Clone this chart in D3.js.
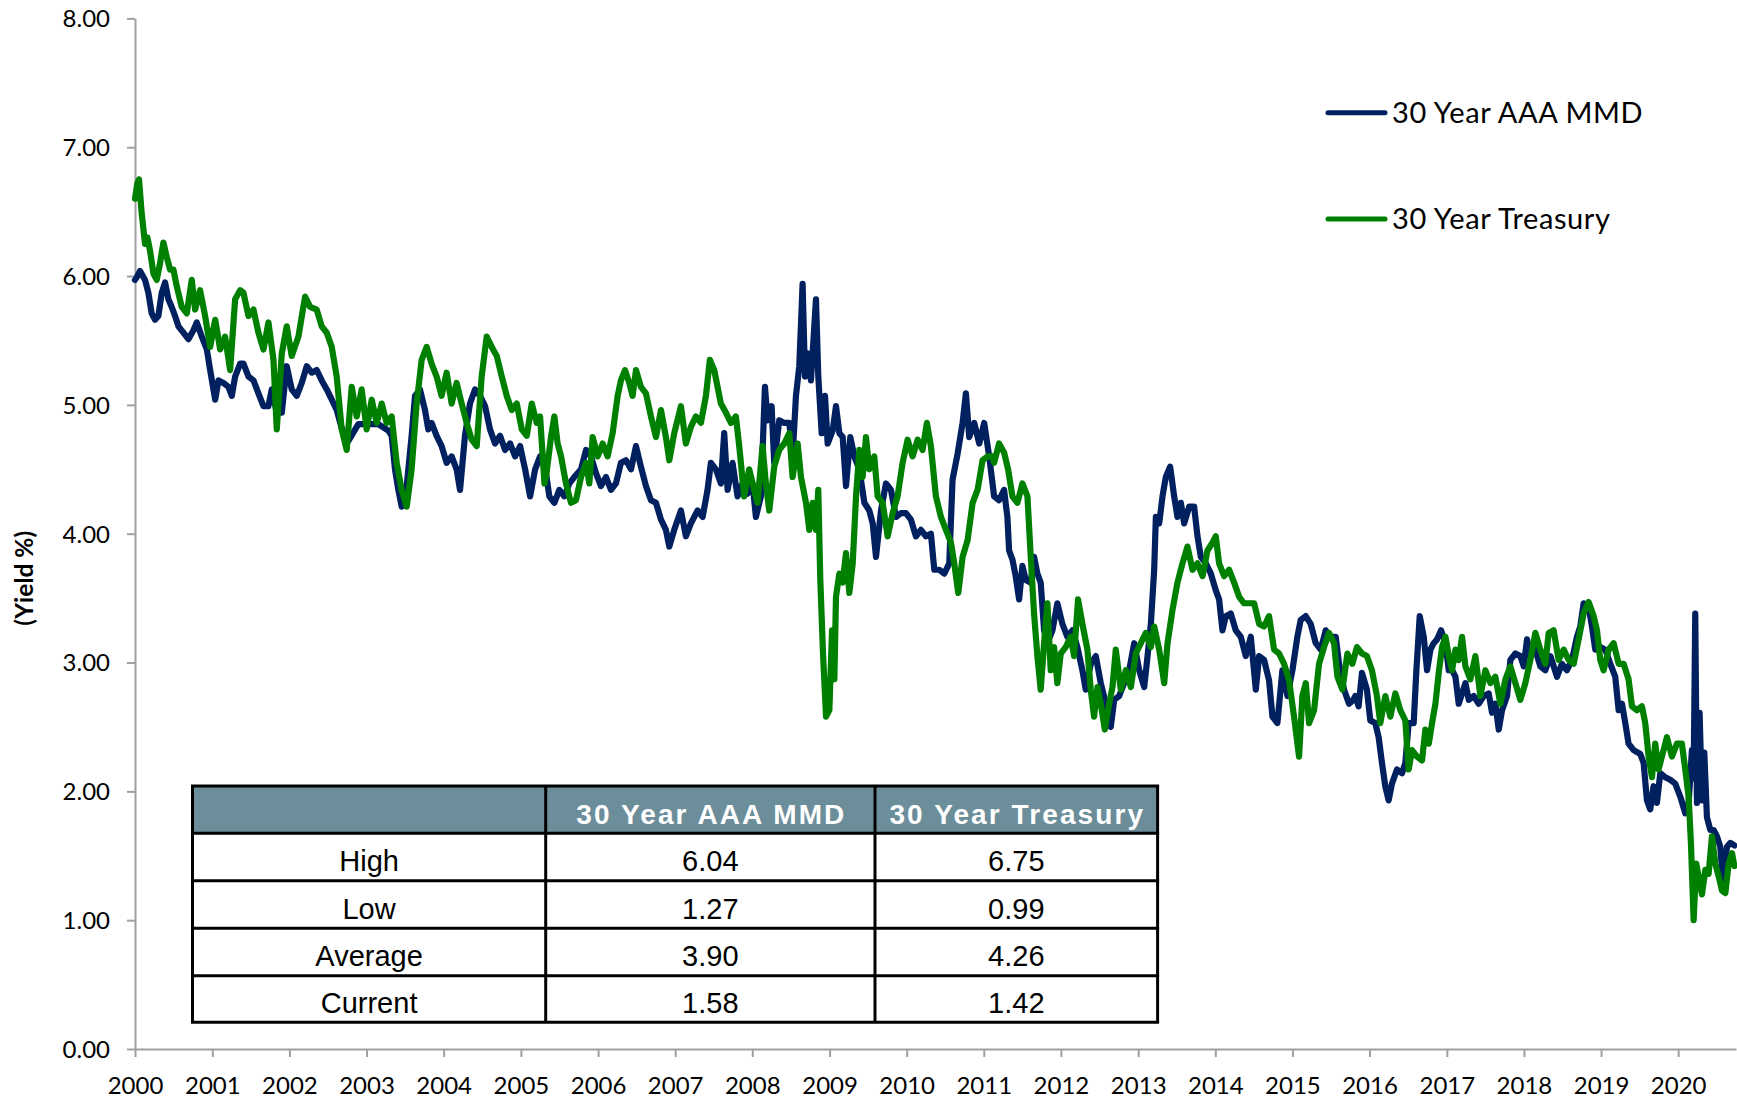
<!DOCTYPE html>
<html><head><meta charset="utf-8">
<script src="https://cdn.jsdelivr.net/npm/d3@7"></script>
<style>body{margin:0;background:#fff}svg{display:block}</style>
</head><body>
<svg id="chart" width="1737" height="1100"></svg>
<script>
// ---------------- DATA (decimal year, yield %) ----------------
const mmd = [
[2000.000,5.97],[2000.022,5.99],[2000.065,6.04],[2000.130,5.97],[2000.173,5.87],[2000.216,5.71],[2000.259,5.66],[2000.302,5.69],[2000.346,5.87],[2000.389,5.95],[2000.432,5.82],[2000.475,5.76],[2000.518,5.69],[2000.562,5.61],[2000.626,5.56],[2000.691,5.51],[2000.756,5.58],[2000.799,5.64],[2000.864,5.53],[2000.929,5.43],[2000.972,5.27],
[2001.037,5.04],[2001.080,5.19],[2001.145,5.17],[2001.209,5.14],[2001.253,5.07],[2001.296,5.22],[2001.361,5.32],[2001.404,5.32],[2001.469,5.22],[2001.534,5.19],[2001.598,5.09],[2001.663,4.99],[2001.728,4.99],[2001.771,5.12],[2001.836,4.94],[2001.901,4.94],[2001.965,5.30],
[2002.030,5.12],[2002.095,5.07],[2002.160,5.17],[2002.225,5.30],[2002.289,5.25],[2002.354,5.27],[2002.419,5.19],[2002.484,5.12],[2002.549,5.04],[2002.613,4.96],[2002.678,4.82],[2002.765,4.72],[2002.894,4.85],
[2003.024,4.85],[2003.153,4.85],[2003.283,4.80],[2003.326,4.76],[2003.369,4.50],[2003.413,4.34],[2003.456,4.21],[2003.521,4.37],[2003.585,4.76],[2003.629,5.07],[2003.693,5.12],[2003.758,4.96],[2003.801,4.81],[2003.844,4.86],[2003.909,4.76],[2003.974,4.68],
[2004.039,4.55],[2004.104,4.60],[2004.168,4.50],[2004.212,4.34],[2004.276,4.76],[2004.341,5.01],[2004.406,5.12],[2004.471,5.07],[2004.536,4.99],[2004.600,4.81],[2004.665,4.70],[2004.730,4.76],[2004.795,4.65],[2004.860,4.70],[2004.924,4.60],[2004.989,4.68],
[2005.054,4.50],[2005.119,4.29],[2005.184,4.50],[2005.248,4.60],[2005.313,4.52],[2005.368,4.29],[2005.433,4.24],[2005.498,4.34],[2005.563,4.29],[2005.628,4.39],[2005.692,4.44],[2005.779,4.50],[2005.844,4.65],[2005.908,4.60],[2005.973,4.47],
[2006.038,4.37],[2006.103,4.44],[2006.168,4.34],[2006.232,4.39],[2006.297,4.55],[2006.362,4.57],[2006.427,4.50],[2006.492,4.68],[2006.556,4.52],[2006.621,4.37],[2006.686,4.26],[2006.751,4.24],[2006.816,4.11],[2006.880,4.03],[2006.924,3.90],[2006.988,4.03],
[2007.075,4.18],[2007.139,3.98],[2007.204,4.08],[2007.291,4.18],[2007.356,4.13],[2007.420,4.34],[2007.463,4.55],[2007.528,4.50],[2007.593,4.39],[2007.636,4.78],[2007.680,4.34],[2007.744,4.55],[2007.809,4.29],[2007.874,4.39],[2007.939,4.31],
[2008.004,4.39],[2008.047,4.13],[2008.112,4.29],[2008.164,5.14],[2008.198,4.88],[2008.250,4.99],[2008.284,4.55],[2008.349,4.88],[2008.414,4.86],[2008.479,4.86],[2008.522,4.60],[2008.565,5.07],[2008.608,5.30],[2008.651,5.94],[2008.682,5.22],[2008.716,5.40],[2008.759,5.19],[2008.824,5.82],[2008.854,5.22],[2008.898,4.78],[2008.941,5.07],[2008.975,4.70],
[2009.040,4.80],[2009.083,4.99],[2009.127,4.78],[2009.170,4.75],[2009.213,4.37],[2009.269,4.75],[2009.321,4.60],[2009.386,4.50],[2009.451,4.24],[2009.515,4.18],[2009.559,4.08],[2009.602,3.82],[2009.667,4.18],[2009.731,4.39],[2009.796,4.34],[2009.861,4.13],[2009.926,4.16],[2009.990,4.16],
[2010.055,4.11],[2010.120,3.98],[2010.185,4.03],[2010.250,3.98],[2010.314,4.00],[2010.358,3.72],[2010.422,3.72],[2010.487,3.69],[2010.552,3.77],[2010.595,4.42],[2010.660,4.62],[2010.725,4.86],[2010.768,5.09],[2010.811,4.75],[2010.876,4.86],[2010.941,4.70],
[2011.005,4.86],[2011.070,4.60],[2011.134,4.29],[2011.198,4.26],[2011.263,4.34],[2011.306,4.13],[2011.328,3.87],[2011.371,3.80],[2011.414,3.67],[2011.458,3.49],[2011.501,3.75],[2011.544,3.64],[2011.609,3.62],[2011.652,3.82],[2011.695,3.69],[2011.738,3.62],[2011.782,3.25],[2011.825,3.15],[2011.890,3.25],[2011.954,3.46],
[2012.019,3.30],[2012.084,3.20],[2012.149,3.25],[2012.213,3.12],[2012.278,2.94],[2012.321,2.79],[2012.386,2.99],[2012.451,3.05],[2012.516,2.84],[2012.581,2.68],[2012.645,2.50],[2012.689,2.71],[2012.753,2.74],[2012.818,2.84],[2012.883,2.94],[2012.948,3.15],
[2013.013,2.94],[2013.078,2.81],[2013.121,3.05],[2013.164,3.30],[2013.207,3.72],[2013.229,4.13],[2013.272,4.08],[2013.315,4.29],[2013.358,4.44],[2013.414,4.52],[2013.466,4.29],[2013.509,4.13],[2013.553,4.24],[2013.596,4.08],[2013.661,4.21],[2013.725,4.21],[2013.769,3.98],[2013.812,3.82],[2013.877,3.77],[2013.942,3.69],
[2014.006,3.56],[2014.049,3.49],[2014.093,3.25],[2014.136,3.36],[2014.201,3.38],[2014.265,3.25],[2014.330,3.20],[2014.395,3.05],[2014.460,3.20],[2014.525,2.79],[2014.568,3.05],[2014.633,3.02],[2014.697,2.86],[2014.741,2.58],[2014.805,2.53],[2014.870,2.94],[2014.935,2.74],
[2015.000,2.94],[2015.064,3.20],[2015.107,3.33],[2015.172,3.36],[2015.237,3.30],[2015.302,3.15],[2015.367,3.10],[2015.432,3.25],[2015.497,3.20],[2015.561,3.20],[2015.605,2.99],[2015.669,2.79],[2015.734,2.68],[2015.790,2.71],[2015.815,2.74],[2015.858,2.66],[2015.902,2.92],[2015.966,2.79],
[2016.010,2.55],[2016.074,2.53],[2016.118,2.42],[2016.161,2.22],[2016.204,2.04],[2016.247,1.93],[2016.290,2.06],[2016.355,2.17],[2016.420,2.14],[2016.463,2.22],[2016.506,2.53],[2016.571,2.53],[2016.606,2.94],[2016.649,3.36],[2016.701,3.20],[2016.744,2.94],[2016.787,3.10],[2016.830,3.15],[2016.874,3.18],[2016.925,3.25],[2016.982,3.15],
[2017.025,2.94],[2017.068,2.94],[2017.111,2.89],[2017.154,2.68],[2017.197,2.76],[2017.241,2.84],[2017.284,2.71],[2017.349,2.74],[2017.413,2.68],[2017.478,2.74],[2017.543,2.76],[2017.586,2.61],[2017.629,2.68],[2017.673,2.48],[2017.716,2.63],[2017.781,2.74],[2017.824,3.02],[2017.889,3.07],[2017.953,3.05],[2017.997,2.97],
[2018.040,3.18],[2018.083,3.05],[2018.148,3.10],[2018.212,2.97],[2018.277,2.94],[2018.342,3.05],[2018.429,2.89],[2018.493,2.99],[2018.558,2.94],[2018.623,3.02],[2018.688,3.20],[2018.731,3.28],[2018.774,3.46],[2018.839,3.43],[2018.882,3.28],[2018.925,3.10],[2018.990,3.12],
[2019.055,3.10],[2019.120,2.99],[2019.184,2.89],[2019.228,2.63],[2019.271,2.68],[2019.314,2.53],[2019.357,2.37],[2019.422,2.32],[2019.509,2.29],[2019.552,2.22],[2019.595,1.93],[2019.638,1.86],[2019.681,2.04],[2019.724,1.91],[2019.768,2.14],[2019.832,2.11],[2019.897,2.09],[2019.962,2.06],
[2020.027,1.96],[2020.092,1.83],[2020.135,1.91],[2020.178,2.32],[2020.200,2.10],[2020.221,3.38],[2020.243,1.91],[2020.277,2.61],[2020.308,1.93],[2020.338,2.30],[2020.372,1.80],[2020.416,1.70],[2020.459,1.70],[2020.502,1.65],[2020.545,1.57],[2020.580,1.30],[2020.632,1.57],[2020.675,1.60],[2020.727,1.58]
];

const tsy = [
[2000.000,6.60],[2000.030,6.72],[2000.052,6.75],[2000.086,6.49],[2000.130,6.25],[2000.160,6.30],[2000.194,6.20],[2000.238,6.02],[2000.281,5.97],[2000.324,6.10],[2000.367,6.26],[2000.410,6.15],[2000.454,6.05],[2000.497,6.05],[2000.540,5.92],[2000.605,5.76],[2000.670,5.71],[2000.734,5.97],[2000.778,5.74],[2000.842,5.89],[2000.907,5.69],[2000.972,5.45],
[2001.037,5.66],[2001.102,5.43],[2001.166,5.53],[2001.231,5.27],[2001.296,5.82],[2001.361,5.89],[2001.404,5.87],[2001.469,5.69],[2001.534,5.74],[2001.598,5.56],[2001.663,5.43],[2001.728,5.64],[2001.793,5.35],[2001.836,4.81],[2001.901,5.40],[2001.965,5.61],
[2002.030,5.38],[2002.117,5.53],[2002.203,5.84],[2002.268,5.76],[2002.354,5.74],[2002.419,5.61],[2002.484,5.56],[2002.549,5.45],[2002.613,5.22],[2002.678,4.81],[2002.743,4.65],[2002.808,5.14],[2002.873,4.91],[2002.937,5.12],
[2003.002,4.81],[2003.067,5.04],[2003.132,4.86],[2003.197,5.01],[2003.261,4.86],[2003.326,4.91],[2003.391,4.55],[2003.456,4.34],[2003.521,4.21],[2003.585,4.50],[2003.650,5.01],[2003.715,5.35],[2003.780,5.45],[2003.844,5.32],[2003.909,5.22],[2003.974,5.07],
[2004.039,5.25],[2004.104,5.01],[2004.168,5.17],[2004.233,5.01],[2004.298,4.86],[2004.363,4.73],[2004.428,4.68],[2004.492,5.22],[2004.557,5.53],[2004.622,5.45],[2004.687,5.38],[2004.752,5.22],[2004.816,5.07],[2004.881,4.96],[2004.946,5.01],
[2005.011,4.81],[2005.076,4.76],[2005.140,5.01],[2005.205,4.86],[2005.248,4.91],[2005.305,4.39],[2005.325,4.44],[2005.390,4.75],[2005.433,4.91],[2005.476,4.70],[2005.520,4.60],[2005.584,4.39],[2005.649,4.24],[2005.714,4.26],[2005.779,4.44],[2005.844,4.55],[2005.887,4.39],[2005.930,4.75],[2005.995,4.60],
[2006.060,4.70],[2006.124,4.60],[2006.189,4.78],[2006.254,5.07],[2006.297,5.19],[2006.349,5.27],[2006.405,5.17],[2006.448,5.07],[2006.492,5.27],[2006.556,5.14],[2006.621,5.09],[2006.686,4.91],[2006.751,4.75],[2006.816,4.96],[2006.880,4.75],[2006.924,4.57],[2006.988,4.78],
[2007.075,4.99],[2007.139,4.70],[2007.204,4.83],[2007.269,4.91],[2007.334,4.86],[2007.399,5.07],[2007.450,5.35],[2007.507,5.27],[2007.550,5.14],[2007.593,5.01],[2007.658,4.94],[2007.723,4.86],[2007.787,4.91],[2007.831,4.68],[2007.895,4.29],[2007.960,4.50],
[2008.025,4.34],[2008.068,4.24],[2008.133,4.68],[2008.176,4.39],[2008.220,4.18],[2008.284,4.52],[2008.349,4.65],[2008.414,4.70],[2008.479,4.78],[2008.522,4.44],[2008.587,4.70],[2008.630,4.44],[2008.695,4.24],[2008.738,4.03],[2008.781,4.24],[2008.824,4.03],[2008.854,4.34],[2008.880,3.64],[2008.915,3.07],[2008.954,2.58],[2008.997,2.63],
[2009.032,3.25],[2009.062,2.87],[2009.083,3.51],[2009.127,3.69],[2009.170,3.62],[2009.213,3.85],[2009.256,3.54],[2009.300,3.77],[2009.343,4.29],[2009.386,4.65],[2009.429,4.44],[2009.472,4.75],[2009.515,4.50],[2009.580,4.60],[2009.623,4.29],[2009.688,4.24],[2009.753,3.98],[2009.818,4.16],[2009.882,4.29],[2009.947,4.55],
[2010.012,4.73],[2010.077,4.60],[2010.142,4.73],[2010.206,4.65],[2010.262,4.86],[2010.314,4.68],[2010.379,4.29],[2010.444,4.13],[2010.509,4.03],[2010.574,3.93],[2010.617,3.77],[2010.669,3.54],[2010.725,3.82],[2010.790,3.95],[2010.855,4.24],[2010.919,4.34],[2010.984,4.57],
[2011.049,4.60],[2011.114,4.60],[2011.134,4.55],[2011.198,4.70],[2011.263,4.63],[2011.315,4.50],[2011.371,4.29],[2011.436,4.24],[2011.501,4.39],[2011.566,4.29],[2011.609,3.82],[2011.652,3.38],[2011.695,3.05],[2011.738,2.79],[2011.782,3.15],[2011.825,3.46],[2011.868,2.94],[2011.911,3.12],[2011.954,2.84],[2011.998,3.07],
[2012.062,3.12],[2012.127,3.20],[2012.170,3.05],[2012.222,3.49],[2012.278,3.30],[2012.343,3.10],[2012.386,2.79],[2012.429,2.58],[2012.473,2.81],[2012.516,2.68],[2012.568,2.48],[2012.624,2.68],[2012.667,2.81],[2012.710,3.10],[2012.775,2.79],[2012.840,2.94],[2012.905,2.81],[2012.969,3.07],
[2013.034,3.15],[2013.099,3.23],[2013.164,3.12],[2013.207,3.28],[2013.272,3.10],[2013.337,2.84],[2013.380,3.15],[2013.445,3.41],[2013.509,3.62],[2013.574,3.77],[2013.639,3.90],[2013.704,3.72],[2013.769,3.77],[2013.834,3.67],[2013.898,3.87],[2013.963,3.93],
[2014.006,3.98],[2014.049,3.77],[2014.114,3.67],[2014.179,3.72],[2014.244,3.62],[2014.309,3.51],[2014.373,3.46],[2014.438,3.46],[2014.503,3.46],[2014.568,3.30],[2014.633,3.28],[2014.697,3.36],[2014.762,3.10],[2014.827,3.07],[2014.892,2.99],[2014.957,2.86],
[2015.021,2.58],[2015.086,2.27],[2015.129,2.74],[2015.173,2.84],[2015.216,2.53],[2015.281,2.63],[2015.345,2.99],[2015.410,3.12],[2015.475,3.23],[2015.540,3.15],[2015.583,2.89],[2015.648,2.79],[2015.713,3.07],[2015.777,2.99],[2015.837,3.12],[2015.902,3.07],[2015.966,3.05],
[2016.031,2.94],[2016.096,2.74],[2016.139,2.53],[2016.204,2.74],[2016.269,2.58],[2016.334,2.76],[2016.398,2.63],[2016.463,2.55],[2016.506,2.17],[2016.550,2.32],[2016.614,2.27],[2016.679,2.24],[2016.722,2.48],[2016.766,2.37],[2016.809,2.53],[2016.852,2.68],[2016.895,2.92],[2016.938,3.12],[2016.982,3.20],
[2017.025,3.05],[2017.068,2.94],[2017.111,3.10],[2017.154,3.02],[2017.197,3.20],[2017.241,2.97],[2017.305,2.87],[2017.370,3.05],[2017.435,2.74],[2017.500,2.94],[2017.565,2.84],[2017.629,2.89],[2017.694,2.68],[2017.759,2.87],[2017.824,2.97],[2017.889,2.84],[2017.953,2.71],
[2018.018,2.84],[2018.083,3.02],[2018.148,3.23],[2018.212,3.10],[2018.277,2.99],[2018.321,3.23],[2018.385,3.25],[2018.450,3.02],[2018.515,3.10],[2018.580,3.02],[2018.645,2.99],[2018.709,3.18],[2018.774,3.38],[2018.839,3.47],[2018.904,3.36],[2018.947,3.25],[2018.990,3.02],
[2019.033,2.94],[2019.098,3.10],[2019.163,3.15],[2019.228,2.99],[2019.292,2.99],[2019.357,2.87],[2019.401,2.66],[2019.465,2.63],[2019.530,2.66],[2019.573,2.53],[2019.617,2.27],[2019.660,2.11],[2019.703,2.37],[2019.746,2.17],[2019.789,2.27],[2019.854,2.42],[2019.919,2.27],[2019.984,2.37],
[2020.048,2.37],[2020.092,2.17],[2020.135,1.96],[2020.165,1.60],[2020.200,1.00],[2020.234,1.44],[2020.264,1.34],[2020.308,1.20],[2020.351,1.39],[2020.394,1.36],[2020.437,1.65],[2020.480,1.44],[2020.524,1.34],[2020.567,1.23],[2020.610,1.21],[2020.653,1.44],[2020.697,1.52],[2020.727,1.42]
];

const yTickValues = [0, 1, 2, 3, 4, 5, 6, 7, 8];
const xTickYears = d3.range(2000, 2021);
const seriesNames = ["30 Year AAA MMD", "30 Year Treasury"];
const seriesColors = ["#002060", "#008000"];
const tableHeader = ["", "30 Year AAA MMD", "30 Year Treasury"];
const tableRowLabels = ["High", "Low", "Average", "Current"];
const tableMMD = ["6.04", "1.27", "3.90", "1.58"];
const tableTSY = ["6.75", "0.99", "4.26", "1.42"];

// ---------------- LAYOUT ----------------
const svg = d3.select("#chart");
const FONT = "Lato, 'Open Sans', sans-serif";
const TFONT = "'Liberation Sans', Arial, sans-serif";
const AX = "#a0a0a0";

function toDate(y) {
  const Y = Math.floor(y);
  const s = Date.UTC(Y, 0, 1), e = Date.UTC(Y + 1, 0, 1);
  return new Date(s + (y - Y) * (e - s));
}

const x = d3.scaleUtc().domain([toDate(2000), toDate(2020.748)]).range([135, 1736]);
const y = d3.scaleLinear().domain([0, 8]).range([1049, 18.4]);

// Y axis
const yAxis = svg.append("g").attr("transform", "translate(135,0)")
  .call(d3.axisLeft(y).tickValues(yTickValues).tickFormat(d3.format(".2f"))
    .tickSize(8).tickSizeOuter(0).tickPadding(17));
yAxis.select(".domain").attr("stroke", AX).attr("stroke-width", 2);
yAxis.selectAll(".tick line").attr("stroke", AX).attr("stroke-width", 2);
yAxis.selectAll(".tick text").attr("font-family", FONT).attr("font-size", 24)
  .attr("fill", "#000").attr("dy", "0.35em");

// X axis
const xAxis = svg.append("g").attr("transform", "translate(0,1049)")
  .call(d3.axisBottom(x).tickValues(xTickYears.map(v => toDate(v)))
    .tickFormat(d3.utcFormat("%Y")).tickSize(8).tickSizeOuter(0));
xAxis.select(".domain").attr("stroke", AX).attr("stroke-width", 2);
xAxis.selectAll(".tick line").attr("stroke", AX).attr("stroke-width", 2);
xAxis.selectAll(".tick text").attr("font-family", FONT).attr("font-size", 24)
  .attr("fill", "#000").attr("y", 44.5).attr("dy", 0);

// Y title
svg.append("text").attr("transform", "translate(33.3,578.3) rotate(-90)")
  .attr("text-anchor", "middle").attr("font-family", FONT).attr("font-weight", "bold")
  .attr("font-size", 24.5).attr("fill", "#000").text("(Yield %)");

// Lines
const line = d3.line().x(d => x(toDate(d[0]))).y(d => y(d[1]));
[mmd, tsy].forEach((data, i) => {
  svg.append("path").datum(data).attr("d", line)
    .attr("fill", "none").attr("stroke", seriesColors[i]).attr("stroke-width", 6.2)
    .attr("stroke-linejoin", "round").attr("stroke-linecap", "round");
});

// Legend
const legendY = [112.7, 219];
seriesNames.forEach((name, i) => {
  const g = svg.append("g");
  g.append("line").attr("x1", 1328).attr("x2", 1385).attr("y1", legendY[i]).attr("y2", legendY[i])
    .attr("stroke", seriesColors[i]).attr("stroke-width", 5).attr("stroke-linecap", "round");
  g.append("text").attr("x", 1392).attr("y", legendY[i] + 10.2)
    .attr("font-family", FONT).attr("font-size", 29).attr("letter-spacing", "0.6px")
    .attr("fill", "#000").text(name);
});

// Table
const colX = [192.5, 545.7, 875, 1157.6];
const rowY = [786, 833.3, 880.7, 928.3, 975.7, 1022.3];
const tg = svg.append("g");
tg.append("rect").attr("x", colX[0]).attr("y", rowY[0]).attr("width", colX[3] - colX[0])
  .attr("height", rowY[5] - rowY[0]).attr("fill", "#fff");
tg.append("rect").attr("x", colX[0]).attr("y", rowY[0]).attr("width", colX[3] - colX[0])
  .attr("height", rowY[1] - rowY[0]).attr("fill", "#6c8e9b");
tableHeader.forEach((h, c) => {
  if (!h) return;
  tg.append("text").attr("x", (colX[c] + colX[c + 1]) / 2 + 1).attr("y", (rowY[0] + rowY[1]) / 2 + 14.2)
    .attr("text-anchor", "middle").attr("font-family", TFONT).attr("font-weight", "bold")
    .attr("font-size", 28).attr("letter-spacing", "2.1px").attr("fill", "#fff").text(h);
});
const rowsData = tableRowLabels.map((l, i) => [l, tableMMD[i], tableTSY[i]]);
rowsData.forEach((row, r) => {
  row.forEach((val, c) => {
    tg.append("text").attr("x", (colX[c] + colX[c + 1]) / 2).attr("y", (rowY[r + 1] + rowY[r + 2]) / 2 + 14.4)
      .attr("text-anchor", "middle").attr("font-family", TFONT).attr("font-size", 29)
      .attr("fill", "#000").text(val);
  });
});
rowY.forEach(yy => tg.append("line").attr("x1", colX[0] - 1.5).attr("x2", colX[3] + 1.5)
  .attr("y1", yy).attr("y2", yy).attr("stroke", "#000").attr("stroke-width", 3));
colX.forEach(xx => tg.append("line").attr("x1", xx).attr("x2", xx)
  .attr("y1", rowY[0]).attr("y2", rowY[5]).attr("stroke", "#000").attr("stroke-width", 3));
</script>
</body></html>
